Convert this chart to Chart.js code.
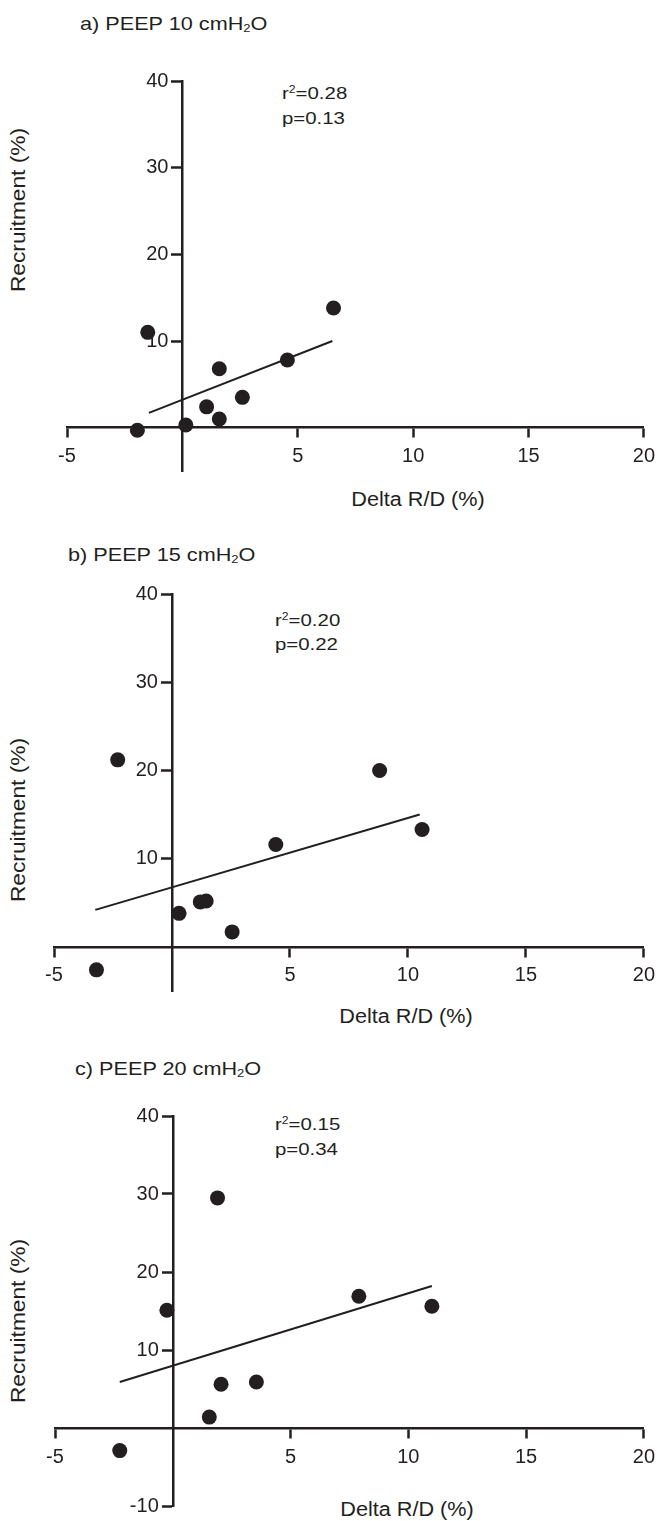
<!DOCTYPE html>
<html>
<head>
<meta charset="utf-8">
<script src="https://cdn.jsdelivr.net/npm/chart.js@4.4.1/dist/chart.umd.min.js"></script>
<style>
  body { margin: 0; background: #fff; }
  #page { position: relative; width: 663px; height: 1521px; overflow: hidden;
          font-family: "Liberation Sans", Arial, sans-serif; color: #231f20; }
  canvas { position: absolute; left: 0; }
  .t { position: absolute; white-space: nowrap; line-height: 1; }
  .title { font-size: 19px; transform-origin: 0 50%; transform: translateY(-50%) scaleX(1.14); }
  .note { font-size: 17px; transform-origin: 0 50%; transform: translateY(-50%) scaleX(1.2); }
  .xt { font-size: 19.5px; transform: translate(-50%, -50%) scaleX(1.11); }
  .yt { font-size: 19.5px; transform: translate(-50%, -50%) rotate(-90deg) scaleX(1.165); }
  sub { font-size: 60%; vertical-align: -0.25em; line-height: 0; }
  sup { font-size: 60%; vertical-align: 0.55em; line-height: 0; }
</style>
</head>
<body>
<div id="page">
  <div class="t title" style="left:80px;top:23px">a) PEEP 10 cmH<sub>2</sub>O</div>
  <div class="t note" style="left:282px;top:93px">r<sup>2</sup>=0.28</div>
  <div class="t note" style="left:282px;top:118px">p=0.13</div>
  <div class="t yt" style="left:19px;top:210px">Recruitment (%)</div>
  <div class="t xt" style="left:418px;top:500px">Delta R/D (%)</div>
  <canvas id="chartA" width="663" height="500" style="top:40px"></canvas>

  <div class="t title" style="left:68px;top:554px">b) PEEP 15 cmH<sub>2</sub>O</div>
  <div class="t note" style="left:275px;top:620px">r<sup>2</sup>=0.20</div>
  <div class="t note" style="left:275px;top:644px">p=0.22</div>
  <div class="t yt" style="left:19px;top:820px">Recruitment (%)</div>
  <div class="t xt" style="left:406px;top:1017px">Delta R/D (%)</div>
  <canvas id="chartB" width="663" height="480" style="top:560px"></canvas>

  <div class="t title" style="left:75px;top:1068px">c) PEEP 20 cmH<sub>2</sub>O</div>
  <div class="t note" style="left:275px;top:1124px">r<sup>2</sup>=0.15</div>
  <div class="t note" style="left:275px;top:1149px">p=0.34</div>
  <div class="t yt" style="left:19px;top:1321px">Recruitment (%)</div>
  <div class="t xt" style="left:407px;top:1510px">Delta R/D (%)</div>
  <canvas id="chartC" width="663" height="451" style="top:1070px"></canvas>
</div>

<script>
// tick labels shared by the three panels (0 is left out, the axes cross there)
const xTicks = [-5, 5, 10, 15, 20];
const yTicksAB = [10, 20, 30, 40];
const yTicksC = [-10, 10, 20, 30, 40];

// a) PEEP 10 cmH2O
const peep10X = [-1.95, -1.5, 0.15, 1.05, 1.6, 1.6, 2.6, 4.55, 6.55];
const peep10Y = [-0.3, 11.0, 0.3, 2.4, 1.0, 6.8, 3.5, 7.8, 13.8];
const fit10X = [-1.45, 6.5];
const fit10Y = [1.7, 10.0];

// b) PEEP 15 cmH2O
const peep15X = [-3.2, -2.3, 0.3, 1.2, 1.45, 2.55, 4.4, 8.8, 10.6];
const peep15Y = [-2.6, 21.2, 3.8, 5.1, 5.2, 1.7, 11.6, 20.0, 13.3];
const fit15X = [-3.25, 10.5];
const fit15Y = [4.2, 15.0];

// c) PEEP 20 cmH2O
const peep20X = [-2.25, -0.25, 1.55, 1.9, 2.05, 3.55, 7.9, 11.0];
const peep20Y = [-2.9, 15.1, 1.4, 29.5, 5.6, 5.9, 16.9, 15.6];
const fit20X = [-2.25, 11.0];
const fit20Y = [5.9, 18.2];

const ink = '#231f20';
const tickFont = { family: '"Liberation Sans", Arial, sans-serif', size: 20 };

function toPoints(xs, ys) {
  return xs.map((x, i) => ({ x: x, y: ys[i] }));
}

function makeChart(id, xs, ys, fx, fy, yMin, yTicks, pad) {
  const ctx = document.getElementById(id).getContext('2d');
  return new Chart(ctx, {
    type: 'scatter',
    data: {
      datasets: [
        {
          data: toPoints(xs, ys),
          pointRadius: 7.5,
          pointHoverRadius: 7.5,
          pointBackgroundColor: ink,
          pointBorderWidth: 0,
          clip: false
        },
        {
          data: toPoints(fx, fy),
          showLine: true,
          borderColor: ink,
          borderWidth: 2,
          pointRadius: 0,
          clip: false
        }
      ]
    },
    options: {
      responsive: false,
      animation: false,
      devicePixelRatio: 1,
      layout: { padding: pad },
      plugins: { legend: { display: false }, tooltip: { enabled: false } },
      scales: {
        x: {
          type: 'linear',
          min: -5, max: 20,
          position: { y: 0 },
          afterBuildTicks: s => { s.ticks = xTicks.map(v => ({ value: v })); },
          grid: { display: true, drawOnChartArea: false, drawTicks: true, tickLength: 9, tickWidth: 2.5, tickColor: ink },
          border: { display: true, color: ink, width: 2.5 },
          ticks: { color: ink, padding: 8, maxRotation: 0, font: tickFont }
        },
        y: {
          type: 'linear',
          min: yMin, max: 40,
          position: { x: 0 },
          afterBuildTicks: s => { s.ticks = yTicks.map(v => ({ value: v })); },
          grid: { display: true, drawOnChartArea: false, drawTicks: true, tickLength: 10, tickWidth: 2.5, tickColor: ink },
          border: { display: true, color: ink, width: 2.5 },
          // labels of an axis placed at x=0 are right-aligned on the axis line, so pad them past the tick
          ticks: { color: ink, font: tickFont, callback: v => v + '\u2002\u2009' }
        }
      }
    }
  });
}

makeChart('chartA', peep10X, peep10Y, fit10X, fit10Y, -5, yTicksAB, { left: 67, right: 15, top: 41, bottom: 69 });
makeChart('chartB', peep15X, peep15Y, fit15X, fit15Y, -5, yTicksAB, { left: 54, right: 15, top: 34, bottom: 49 });
makeChart('chartC', peep20X, peep20Y, fit20X, fit20Y, -10, yTicksC, { left: 55, right: 16, top: 46, bottom: 11 });
</script>
</body>
</html>
